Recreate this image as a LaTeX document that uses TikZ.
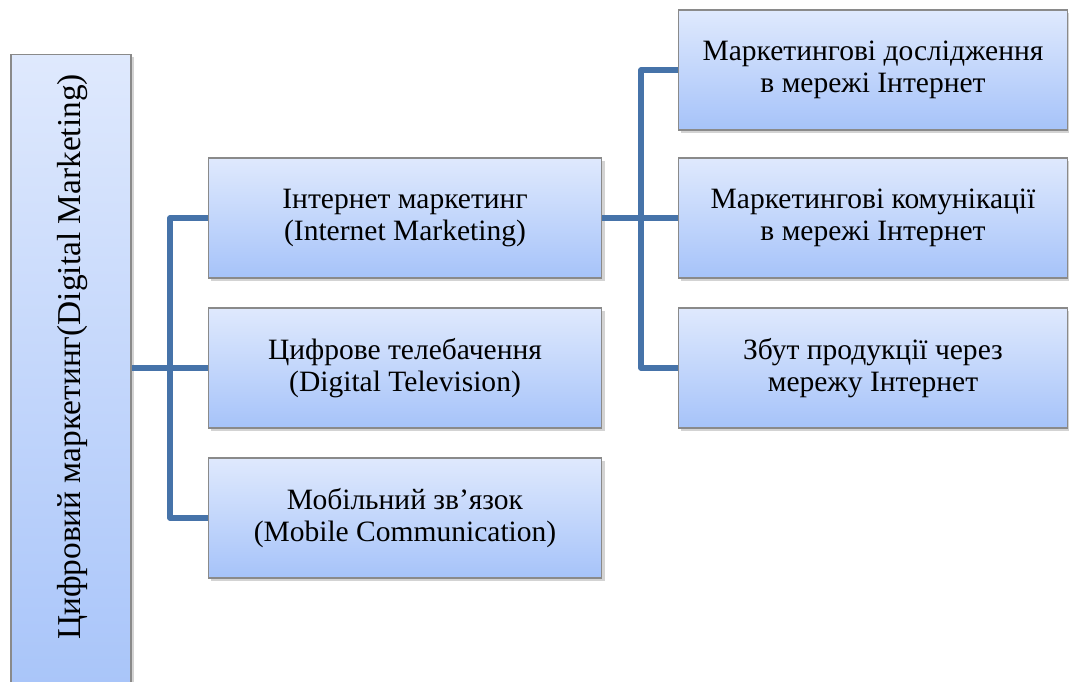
\documentclass[tikz,border=0pt]{standalone}
\usepackage{fontspec}
\setmainfont{Liberation Serif}
\usetikzlibrary{shadows}

\definecolor{boxtop}{HTML}{DFE9FD}
\definecolor{boxbot}{HTML}{A6C3F9}
\definecolor{boxline}{HTML}{8A8A8A}
\definecolor{linkcol}{HTML}{4673A9}

\tikzset{
  box/.style={draw=boxline, line width=0.6pt, top color=boxtop, bottom color=boxbot,
    drop shadow={shadow xshift=1.5pt, shadow yshift=-1.5pt, opacity=0.35},
    minimum width=7.88cm, minimum height=2.4cm, inner sep=0pt, align=center,
    font=\fontsize{16.8}{18.6}\selectfont},
  link/.style={draw=linkcol, line width=3.2pt, line join=round}
}

\begin{document}
\begin{tikzpicture}[x=0.02cm, y=-0.02cm]
\useasboundingbox (0,0) rectangle (1069,682);

\node[box, minimum width=2.4cm, minimum height=13.32cm] (root) at (71,387) {};
\node[rotate=90, font=\fontsize{19}{22}\selectfont] (rootlabel) at (73,357) {Цифровий маркетинг(Digital Marketing)};

\node[box] (inet) at (405,218) {Інтернет маркетинг\\(Internet Marketing)};
\node[box] (tv) at (405,368) {Цифрове телебачення\\(Digital Television)};
\node[box] (mob) at (405,518) {Мобільний зв’язок\\(Mobile Communication)};

\node[box, minimum width=7.8cm] (res) at (873,70) {Маркетингові дослідження\\в мережі Інтернет};
\node[box, minimum width=7.8cm] (com) at (873,218) {Маркетингові комунікації\\в мережі Інтернет};
\node[box, minimum width=7.8cm] (sale) at (873,368) {Збут продукції через\\мережу Інтернет};

\coordinate (j1) at (170,368);
\coordinate (j2) at (641,218);

\draw[link] (root.east |- tv.west) -- (tv.west);
\draw[link] (inet.west) -| (j1) |- (mob.west);
\draw[link] (inet.east) -- (com.west);
\draw[link] (res.west) -| (j2) |- (sale.west);

\end{tikzpicture}
\end{document}
